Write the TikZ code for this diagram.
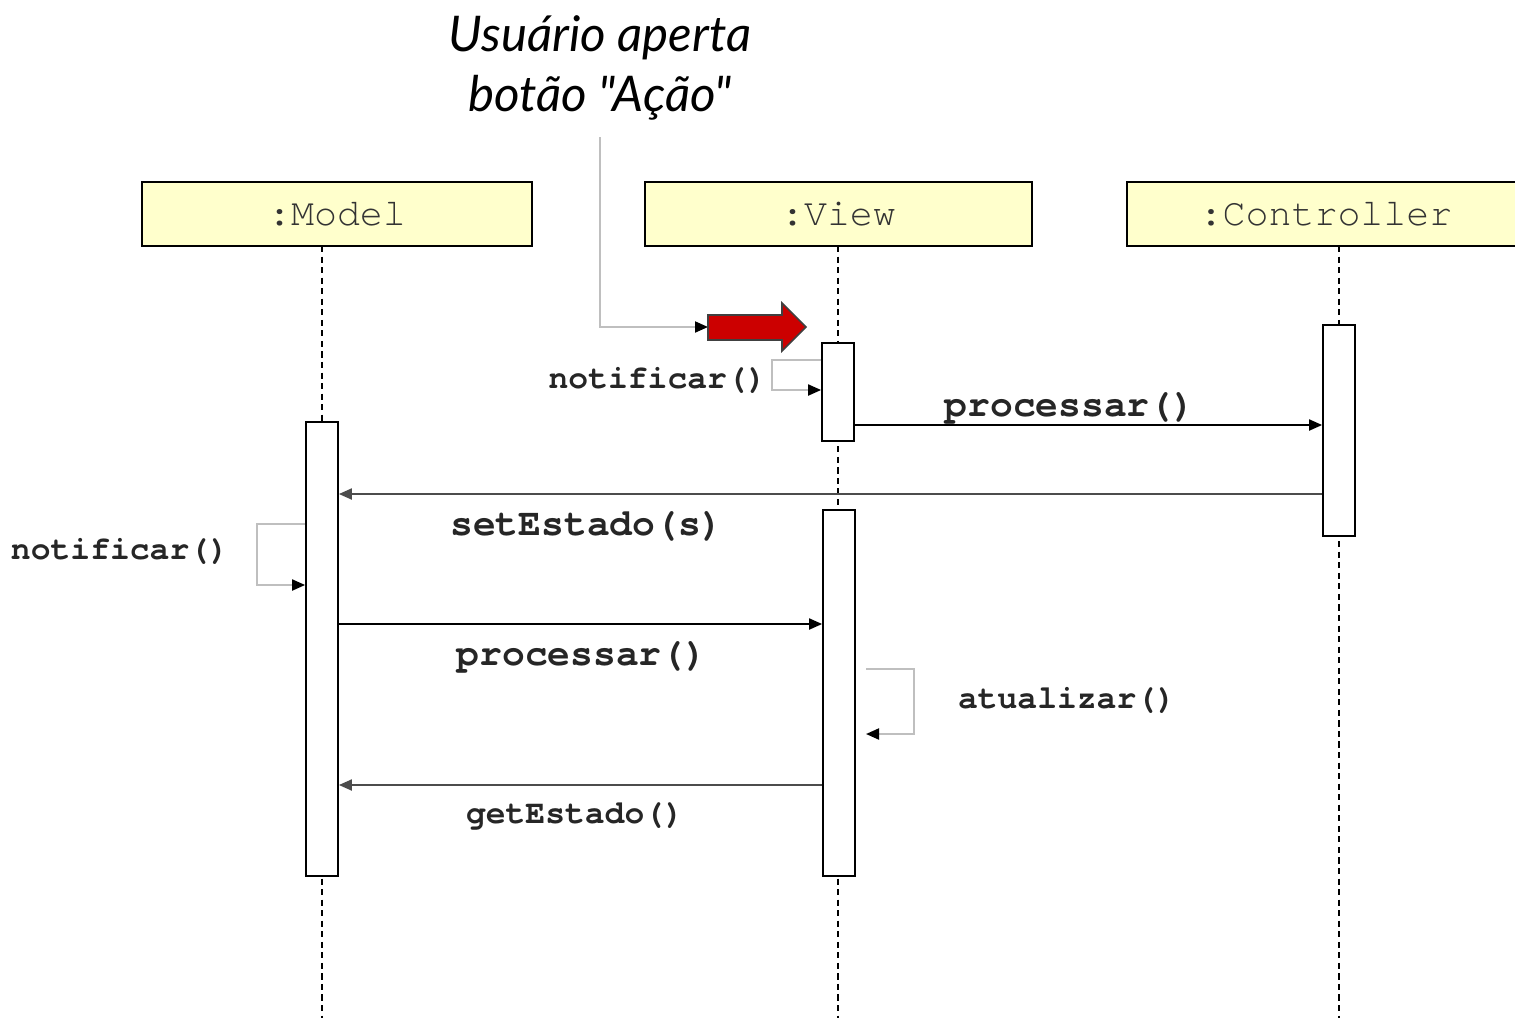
\documentclass[tikz,border=0pt]{standalone}
\usepackage{fontspec}
\setmonofont{texgyrecursor-regular.otf}[BoldFont=texgyrecursor-bold.otf, Ligatures=NoCommon]
\newfontfamily\titlefont{Lato}
\usetikzlibrary{arrows.meta}
\definecolor{caixa}{HTML}{FFFFCC}
\definecolor{seta}{HTML}{CC0000}

\begin{document}
\begin{tikzpicture}[x=0.02cm, y=-0.02cm,
    objeto/.style={draw, line width=1pt, fill=caixa, minimum height=1.28cm, inner sep=0pt,
      text=black!80, font=\ttfamily\fontsize{21.8}{24}\selectfont},
    barra/.style={draw, line width=1pt, fill=white, minimum width=0.64cm, inner sep=0pt},
    vida/.style={line width=1pt, dash pattern=on 3.5pt off 2.5pt},
    msg/.style={line width=1.1pt, -{Triangle[length=0.26cm, width=0.22cm]}},
    volta/.style={line width=1.1pt, black!25, -{Triangle[length=0.26cm, width=0.22cm, black]}},
    rotulo/.style={inner sep=0pt, font=\ttfamily\bfseries\fontsize{18.8}{20}\selectfont, text=black!85},
    rotulog/.style={rotulo, font=\ttfamily\bfseries\fontsize{21.6}{24}\selectfont}
  ]
  \useasboundingbox (0,0) rectangle (1515,1022);

  % objetos
  \node[objeto, minimum width=7.8cm] at (337,214) (model) {:Model};
  \node[objeto, minimum width=7.74cm] at (838.5,214) (view) {:View};
  \node[objeto, minimum width=7.96cm] at (1326,214) (ctrl) {:Controller};

  % linhas de vida
  \draw[vida] (322,246) -- (322,1018);
  \draw[vida] (838,246) -- (838,1018);
  \draw[vida] (1339,246) -- (1339,1018);

  % ativacoes
  \node[barra, minimum height=1.96cm] at (838,392) (vbar1) {};
  \node[barra, minimum height=4.22cm] at (1339,430.5) (cbar) {};
  \node[barra, minimum height=9.08cm] at (322,649) (mbar) {};
  \node[barra, minimum height=7.32cm] at (839,693) (vbar2) {};

  % usuario
  \node[align=center, inner sep=0pt, font=\titlefont\itshape\fontsize{28}{34}\selectfont]
    at (600,68) (titulo) {Usuário aperta\\botão "Ação"};
  \coordinate (acao) at (708,327);
  \draw[volta] (600,137) |- (acao);
  \draw[line width=0.9pt, draw=black!75, fill=seta]
    (708,315) -- (782,315) -- (782,303) -- (806,327) -- (782,351) -- (782,340) -- (708,340) -- cycle;

  % mensagens
  \draw[volta] (vbar1.west |- 0,360) -| (772,390) -- (vbar1.west |- 0,390);
  \node[rotulo, anchor=east] at (767,380) (n1) {notificar()};

  \draw[msg] (vbar1.east |- 0,425) -- (cbar.west |- 0,425);
  \node[rotulog] at (1070,408) (p1) {processar()};

  \draw[msg, black!70] (cbar.west |- 0,494) -- (mbar.east |- 0,494);
  \node[rotulog] at (587,526) (s1) {setEstado(s)};

  \draw[volta] (mbar.west |- 0,524) -| (257,585) -- (mbar.west |- 0,585);
  \node[rotulo] at (120,551) (n2) {notificar()};

  \draw[msg] (mbar.east |- 0,624) -- (vbar2.west |- 0,624);
  \node[rotulog] at (582,657) (p2) {processar()};

  \coordinate (at1) at (866,669);
  \coordinate (at2) at (866,734);
  \draw[volta] (at1) -| (914,734) -- (at2);
  \node[rotulo] at (1067,700) (a1) {atualizar()};

  \draw[msg, black!70] (vbar2.west |- 0,785) -- (mbar.east |- 0,785);
  \node[rotulo] at (575,816) (g1) {getEstado()};
\end{tikzpicture}
\end{document}
